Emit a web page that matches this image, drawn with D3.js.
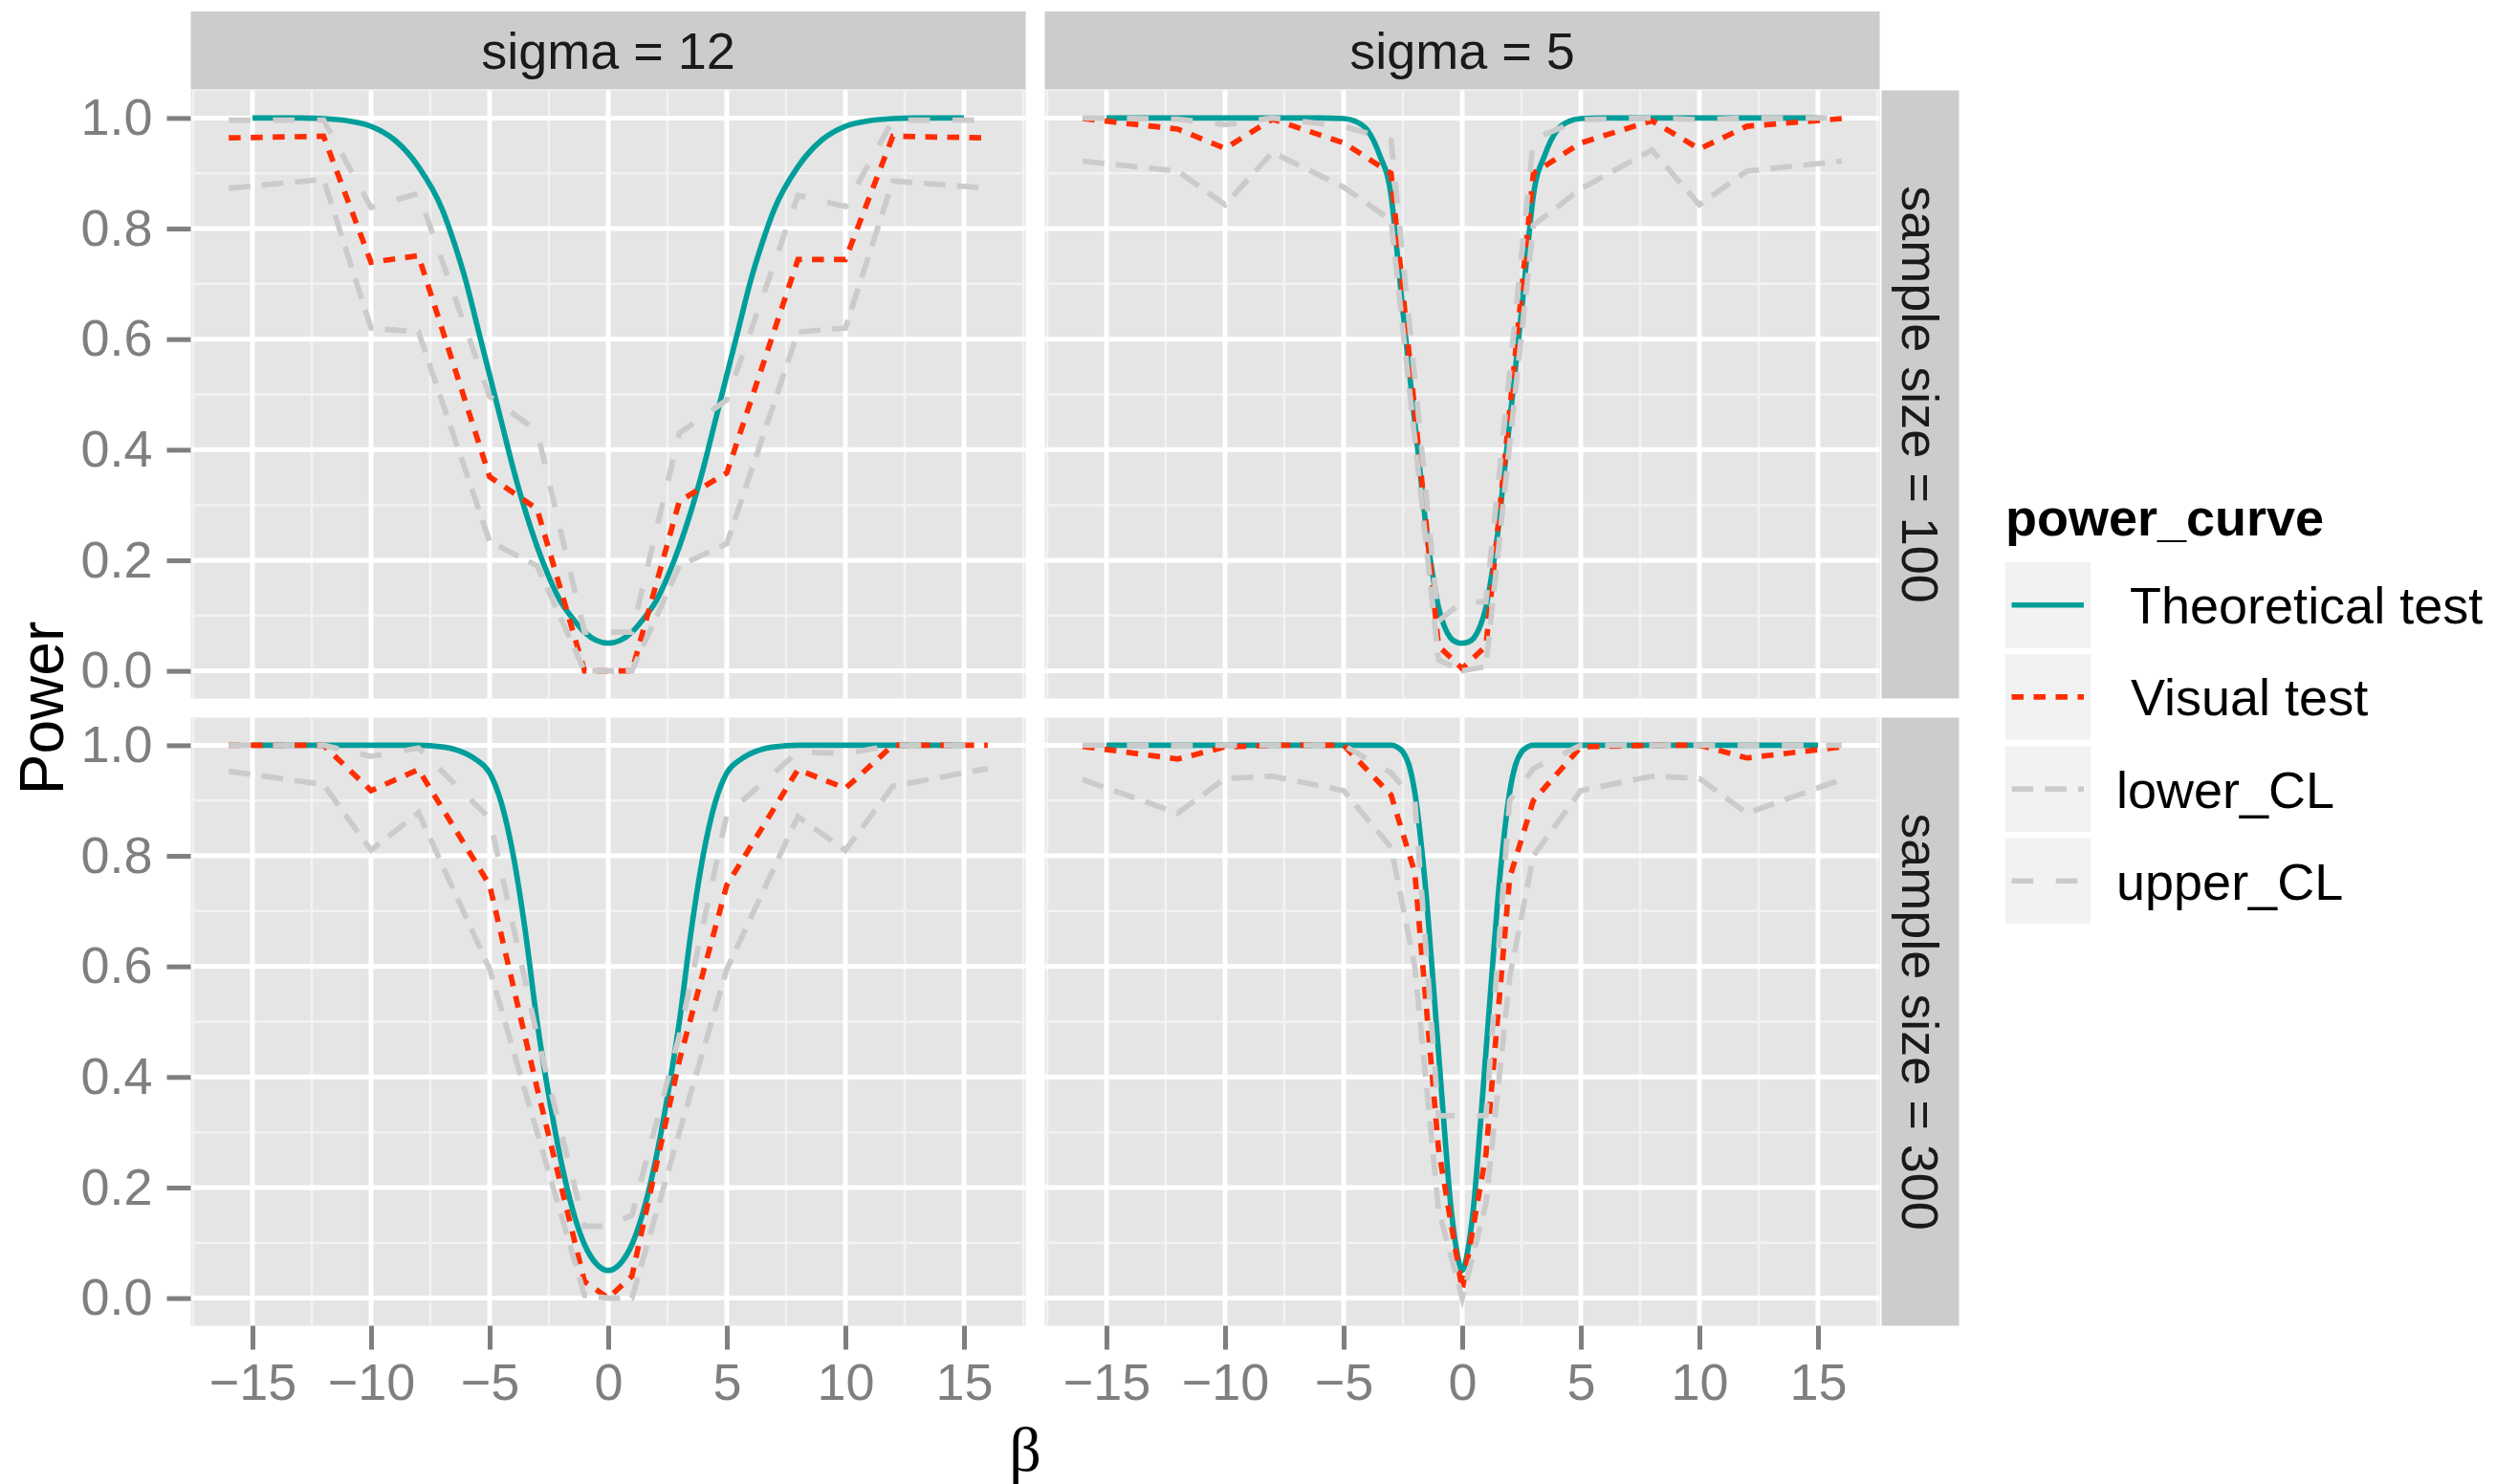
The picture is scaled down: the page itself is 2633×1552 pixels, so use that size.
<!DOCTYPE html>
<html>
<head>
<meta charset="utf-8">
<script src="https://cdn.jsdelivr.net/npm/d3@7"></script>
<style>
    body { margin: 0; background: #ffffff; }
    text { font-family: "Liberation Sans", Arial, Helvetica, sans-serif; }
</style>
</head>
<body>
<svg id="chart" width="2633" height="1552"></svg>
<script>
// facet labels and legend entries
const sigmaLabels = ["sigma = 12", "sigma = 5"];
const sizeLabels = ["sample size = 100", "sample size = 300"];
const seriesNames = [" Theoretical test", " Visual test", "lower_CL", "upper_CL"];

// axis ticks
const xTicks = [-15, -10, -5, 0, 5, 10, 15];
const xMinor = [-17.5, -12.5, -7.5, -2.5, 2.5, 7.5, 12.5, 17.5];
const yTicks = [0, 0.2, 0.4, 0.6, 0.8, 1.0];
const yMinor = [0.1, 0.3, 0.5, 0.7, 0.9];

// beta values of the experiment
const betaObs12 = [-16, -12, -10, -8, -5, -3, -1, 0, 1, 3, 5, 8, 10, 12, 16];
const betaObs5 = [-16, -12, -10, -8, -5, -3, -2, -1, 0, 1, 2, 3, 5, 8, 10, 12, 16];

// beta grid of the theoretical curves
const betaTh12 = [-15, -14, -13, -12, -11, -10, -9, -8, -7, -6.5, -6, -5.5, -5, -4.5, -4, -3.5, -3, -2.5, -2, -1.5, -1, -0.5, 0,
    0.5, 1, 1.5, 2, 2.5, 3, 3.5, 4, 4.5, 5, 5.5, 6, 6.5, 7, 8, 9, 10, 11, 12, 13, 14, 15];
const betaTh5 = [-15, -10, -6, -5, -4.5, -4, -3.5, -3, -2.75, -2.5, -2.25, -2, -1.75, -1.5, -1.25, -1, -0.75, -0.5, -0.25, 0,
    0.25, 0.5, 0.75, 1, 1.25, 1.5, 1.75, 2, 2.25, 2.5, 2.75, 3, 3.5, 4, 4.5, 5, 6, 10, 15];

// sigma = 12, sample size = 100
const theory12n100 = [1, 1, 1, 0.999, 0.995, 0.985, 0.96, 0.912, 0.835, 0.775, 0.705, 0.62, 0.535, 0.45, 0.365, 0.29, 0.225, 0.17, 0.125, 0.095, 0.07, 0.055, 0.05,
    0.055, 0.07, 0.095, 0.125, 0.17, 0.225, 0.29, 0.365, 0.45, 0.535, 0.62, 0.705, 0.775, 0.835, 0.912, 0.96, 0.985, 0.995, 0.999, 1, 1, 1];
const visual12n100 = [0.964, 0.967, 0.739, 0.751, 0.351, 0.293, 0, 0, 0, 0.307, 0.358, 0.744, 0.744, 0.967, 0.964];
const lower12n100 = [0.873, 0.889, 0.62, 0.613, 0.234, 0.19, 0, 0, 0, 0.19, 0.23, 0.613, 0.62, 0.886, 0.873];
const upper12n100 = [0.996, 0.996, 0.838, 0.864, 0.496, 0.434, 0.07, 0.07, 0.07, 0.43, 0.49, 0.86, 0.84, 0.996, 0.996];

// sigma = 12, sample size = 300
const theory12n300 = [1, 1, 1, 1, 1, 1, 1, 1, 0.997, 0.993, 0.985, 0.972, 0.95, 0.895, 0.8, 0.665, 0.5, 0.365, 0.25, 0.16, 0.097, 0.062, 0.05,
    0.062, 0.097, 0.16, 0.25, 0.365, 0.5, 0.665, 0.8, 0.895, 0.95, 0.972, 0.985, 0.993, 0.997, 1, 1, 1, 1, 1, 1, 1, 1];
const visual12n300 = [1, 1, 0.918, 0.956, 0.747, 0.38, 0.03, 0, 0.04, 0.43, 0.747, 0.956, 0.922, 1, 1];
const lower12n300 = [0.953, 0.929, 0.81, 0.878, 0.595, 0.3, 0.005, 0, 0, 0.3, 0.595, 0.871, 0.81, 0.926, 0.958];
const upper12n300 = [1, 1, 0.98, 0.995, 0.868, 0.475, 0.13, 0.13, 0.15, 0.475, 0.875, 0.988, 0.985, 1, 1];

// sigma = 5, sample size = 100
const theory5n100 = [1, 1, 1, 0.999, 0.994, 0.978, 0.935, 0.86, 0.76, 0.65, 0.55, 0.45, 0.35, 0.25, 0.175, 0.115, 0.08, 0.06, 0.052, 0.05,
    0.052, 0.06, 0.08, 0.115, 0.175, 0.25, 0.35, 0.45, 0.55, 0.65, 0.76, 0.86, 0.935, 0.978, 0.994, 0.999, 1, 1, 1];
const visual5n100 = [0.999, 0.98, 0.945, 0.998, 0.955, 0.9, 0.47, 0.045, 0.004, 0.045, 0.47, 0.9, 0.955, 0.995, 0.944, 0.985, 0.999];
const lower5n100 = [0.922, 0.904, 0.843, 0.938, 0.875, 0.815, 0.42, 0.02, 0, 0.008, 0.41, 0.806, 0.872, 0.942, 0.843, 0.904, 0.922];
const upper5n100 = [1, 0.998, 0.988, 1, 0.985, 0.96, 0.53, 0.09, 0.125, 0.125, 0.54, 0.962, 0.997, 1, 0.997, 1, 1];

// sigma = 5, sample size = 300
const theory5n300 = [1, 1, 1, 1, 1, 1, 1, 1, 0.997, 0.988, 0.965, 0.915, 0.83, 0.72, 0.585, 0.445, 0.305, 0.175, 0.09, 0.05,
    0.09, 0.175, 0.305, 0.445, 0.585, 0.72, 0.83, 0.915, 0.965, 0.988, 0.997, 1, 1, 1, 1, 1, 1, 1, 1];
const visual5n300 = [0.998, 0.975, 0.997, 1, 1, 0.91, 0.77, 0.27, 0.015, 0.26, 0.76, 0.9, 0.997, 1, 1, 0.977, 0.997];
const lower5n300 = [0.938, 0.877, 0.94, 0.944, 0.918, 0.815, 0.6, 0.16, 0, 0.17, 0.58, 0.8, 0.918, 0.944, 0.94, 0.877, 0.938];
const upper5n300 = [1, 1, 1, 1, 1, 0.95, 0.9, 0.33, 0.33, 0.33, 0.9, 0.958, 1, 1, 1, 1, 1];

// look of the four series
const lineColors = ["#009e9a", "#ff2d00", "#cbcbcb", "#cbcbcb"];
const lineDashes = [null, "12.5,10.5", "22.7,12", "22.7,23.5"];

const panels = [
    { col: 0, row: 0, thBeta: betaTh12, theory: theory12n100, beta: betaObs12, visual: visual12n100, lower: lower12n100, upper: upper12n100 },
    { col: 1, row: 0, thBeta: betaTh5, theory: theory5n100, beta: betaObs5, visual: visual5n100, lower: lower5n100, upper: upper5n100 },
    { col: 0, row: 1, thBeta: betaTh12, theory: theory12n300, beta: betaObs12, visual: visual12n300, lower: lower12n300, upper: upper12n300 },
    { col: 1, row: 1, thBeta: betaTh5, theory: theory5n300, beta: betaObs5, visual: visual5n300, lower: lower5n300, upper: upper5n300 }
];

const svg = d3.select("#chart");
const panelW = 873, panelH = 636, gap = 20;
const panelLeft = 199.5, panelTop = 94.5;
const fontSize = 54;

const x = d3.scaleLinear().domain([-17.6, 17.6]).range([0, panelW]);
const y = d3.scaleLinear().domain([-0.05, 1.05]).range([panelH, 0]);

const line = d3.line()
    .x(d => x(d[0]))
    .y(d => y(d[1]));
const smooth = d3.line()
    .curve(d3.curveMonotoneX)
    .x(d => x(d[0]))
    .y(d => y(d[1]));

panels.forEach(p => {
    const g = svg.append("g")
        .attr("transform", `translate(${panelLeft + p.col * (panelW + gap)},${panelTop + p.row * (panelH + gap)})`);

    g.append("rect")
        .attr("width", panelW)
        .attr("height", panelH)
        .attr("fill", "#e5e5e5");

    // grid, minor first
    g.selectAll(".vminor").data(xMinor).enter().append("line")
        .attr("x1", d => x(d)).attr("x2", d => x(d))
        .attr("y1", 0).attr("y2", panelH)
        .attr("stroke", "#f2f2f2").attr("stroke-width", 2.5);
    g.selectAll(".hminor").data(yMinor).enter().append("line")
        .attr("x1", 0).attr("x2", panelW)
        .attr("y1", d => y(d)).attr("y2", d => y(d))
        .attr("stroke", "#f2f2f2").attr("stroke-width", 2.5);
    g.selectAll(".vmajor").data(xTicks).enter().append("line")
        .attr("x1", d => x(d)).attr("x2", d => x(d))
        .attr("y1", 0).attr("y2", panelH)
        .attr("stroke", "#ffffff").attr("stroke-width", 5);
    g.selectAll(".hmajor").data(yTicks).enter().append("line")
        .attr("x1", 0).attr("x2", panelW)
        .attr("y1", d => y(d)).attr("y2", d => y(d))
        .attr("stroke", "#ffffff").attr("stroke-width", 5);

    // theoretical, visual, lower, upper
    const series = [
        p.thBeta.map((b, i) => [b, p.theory[i]]),
        p.beta.map((b, i) => [b, p.visual[i]]),
        p.beta.map((b, i) => [b, p.lower[i]]),
        p.beta.map((b, i) => [b, p.upper[i]])
    ];
    series.forEach((s, i) => {
        g.append("path")
            .datum(s)
            .attr("d", i === 0 ? smooth : line)
            .attr("fill", "none")
            .attr("stroke", lineColors[i])
            .attr("stroke-width", 5.7)
            .attr("stroke-dasharray", lineDashes[i]);
    });

    if (p.col === 0) {
        const ax = g.append("g")
            .call(d3.axisLeft(y).tickValues(yTicks).tickSize(25).tickPadding(15).tickFormat(d3.format(".1f")));
        styleAxis(ax);
    }
    if (p.row === 1) {
        const ax = g.append("g")
            .attr("transform", `translate(0,${panelH})`)
            .call(d3.axisBottom(x).tickValues(xTicks).tickSize(25).tickPadding(14));
        styleAxis(ax);
    }
});

function styleAxis(ax) {
    ax.select(".domain").remove();
    ax.selectAll(".tick line").attr("stroke", "#7f7f7f").attr("stroke-width", 5);
    ax.selectAll(".tick text")
        .attr("fill", "#7f7f7f")
        .style("font-size", fontSize + "px")
        .style("font-family", "'Liberation Sans', Arial, sans-serif");
}

// strips
sigmaLabels.forEach((lab, i) => {
    const sx = panelLeft + i * (panelW + gap);
    svg.append("rect")
        .attr("x", sx).attr("y", 12)
        .attr("width", panelW).attr("height", panelTop - 13)
        .attr("fill", "#cccccc");
    svg.append("text")
        .attr("x", sx + panelW / 2)
        .attr("y", (12 + panelTop - 1) / 2)
        .attr("dy", "0.36em")
        .attr("text-anchor", "middle")
        .attr("fill", "#1a1a1a")
        .style("font-size", fontSize + "px")
        .text(lab);
});

const stripX = panelLeft + 2 * panelW + gap + 2;
sizeLabels.forEach((lab, i) => {
    const sy = panelTop + i * (panelH + gap);
    svg.append("rect")
        .attr("x", stripX).attr("y", sy)
        .attr("width", 81).attr("height", panelH)
        .attr("fill", "#cccccc");
    svg.append("text")
        .attr("transform", `translate(${stripX + 40.5},${sy + panelH / 2}) rotate(90)`)
        .attr("dy", "0.36em")
        .attr("text-anchor", "middle")
        .attr("fill", "#1a1a1a")
        .style("font-size", fontSize + "px")
        .text(lab);
});

// axis titles
svg.append("text")
    .attr("transform", `translate(66,${panelTop + panelH + gap / 2}) rotate(-90)`)
    .attr("text-anchor", "middle")
    .attr("fill", "#000000")
    .style("font-size", "64px")
    .text("Power");

svg.append("text")
    .attr("x", 1072)
    .attr("y", 1538)
    .attr("text-anchor", "middle")
    .attr("fill", "#000000")
    .style("font-family", "'Liberation Serif', 'DejaVu Serif', serif")
    .style("font-size", "66px")
    .text("β");

// legend
const legend = svg.append("g").attr("transform", "translate(2097,0)");
legend.append("text")
    .attr("x", 0).attr("y", 560)
    .attr("fill", "#000000")
    .style("font-size", fontSize + "px")
    .style("font-weight", "bold")
    .text("power_curve");

const keyY = d3.scaleBand().domain(seriesNames).range([588, 966]).paddingInner(0.07);
const keys = legend.selectAll(".key").data(seriesNames).enter().append("g")
    .attr("transform", d => `translate(0,${keyY(d)})`);
keys.append("rect")
    .attr("width", 89)
    .attr("height", keyY.bandwidth())
    .attr("fill", "#f2f2f2");
keys.append("line")
    .attr("x1", 6.5).attr("x2", 82)
    .attr("y1", keyY.bandwidth() / 2).attr("y2", keyY.bandwidth() / 2)
    .attr("stroke", (d, i) => lineColors[i])
    .attr("stroke-width", 5.7)
    .attr("stroke-dasharray", (d, i) => lineDashes[i]);
keys.append("text")
    .attr("x", 116)
    .attr("y", keyY.bandwidth() / 2)
    .attr("dy", "0.36em")
    .attr("fill", "#000000")
    .style("font-size", fontSize + "px")
    .style("white-space", "pre")
    .text(d => d);
</script>
</body>
</html>
